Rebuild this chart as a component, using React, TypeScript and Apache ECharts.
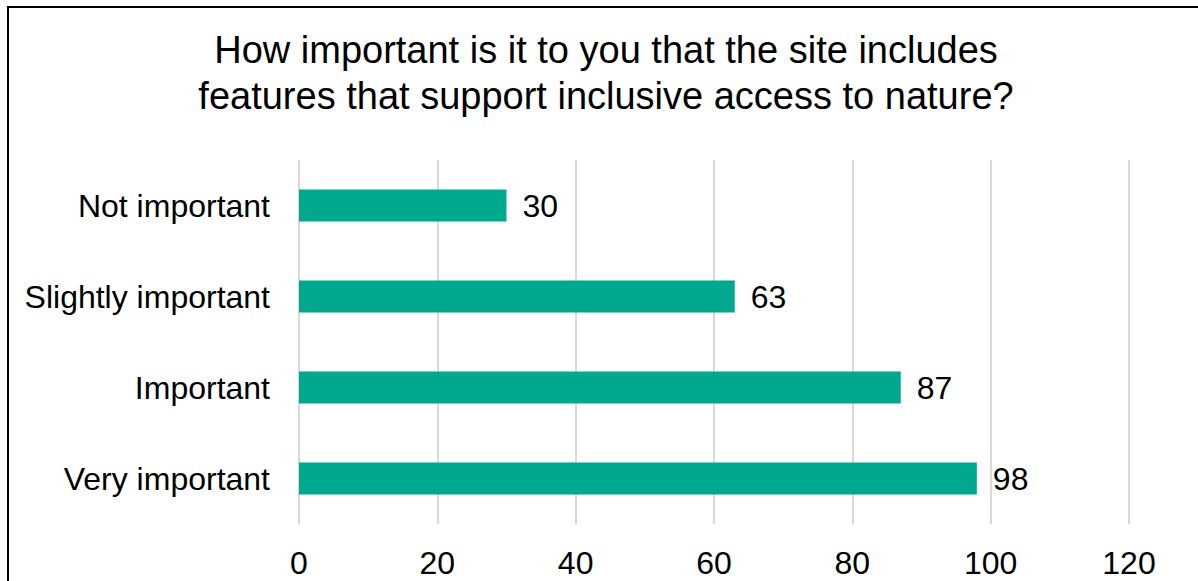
import React, { useEffect, useRef } from "react";
import * as echarts from "echarts";

const categories = ["Not important", "Slightly important", "Important", "Very important"];
const values = [30, 63, 87, 98];
const titleLines = [
  "How important is it to you that the site includes",
  "features that support inclusive access to nature?",
];

const FONT = "'Liberation Sans', Arial, sans-serif";

export default function App() {
  const ref = useRef<HTMLDivElement>(null);
  useEffect(() => {
    const chart = echarts.init(ref.current!, null, { renderer: "svg" });
    chart.setOption({
      animation: false,
      backgroundColor: "#ffffff",
      textStyle: { fontFamily: FONT },
      grid: { left: 299, right: 69, top: 160, bottom: 57, containLabel: false },
      graphic: [
        {
          type: "polyline",
          shape: { points: [[8, 800], [8, 7], [1400, 7]] },
          style: { stroke: "#000", lineWidth: 2, fill: null },
          silent: true,
        },
        {
          type: "text",
          x: 606,
          y: 73,
          style: {
            text: titleLines.join("\n"),
            font: `38px ${FONT}`,
            fill: "#000",
            textAlign: "center",
            textVerticalAlign: "middle",
            verticalAlign: "middle",
            lineHeight: 46,
          },
        },
      ],
      xAxis: {
        type: "value",
        min: 0,
        max: 120,
        interval: 20,
        axisLine: { show: false },
        axisTick: { show: false },
        splitLine: { show: true, lineStyle: { color: "#d9d9d9", width: 2 } },
        axisLabel: { fontSize: 32, color: "#000", margin: 23, fontFamily: FONT },
      },
      yAxis: {
        type: "category",
        inverse: true,
        data: categories,
        axisLine: { show: false },
        axisTick: { show: false },
        axisLabel: { fontSize: 32, color: "#000", margin: 29, fontFamily: FONT },
      },
      series: [
        {
          type: "bar",
          data: values,
          barWidth: 32,
          itemStyle: { color: "#00A88E" },
          label: {
            show: true,
            position: "right",
            distance: 16,
            fontSize: 32,
            color: "#000",
            fontFamily: FONT,
          },
        },
      ],
    });
    return () => chart.dispose();
  }, []);
  return (
    <div
      ref={ref}
      style={{ position: "absolute", left: 0, top: 0, width: 1198, height: 581 }}
    />
  );
}
